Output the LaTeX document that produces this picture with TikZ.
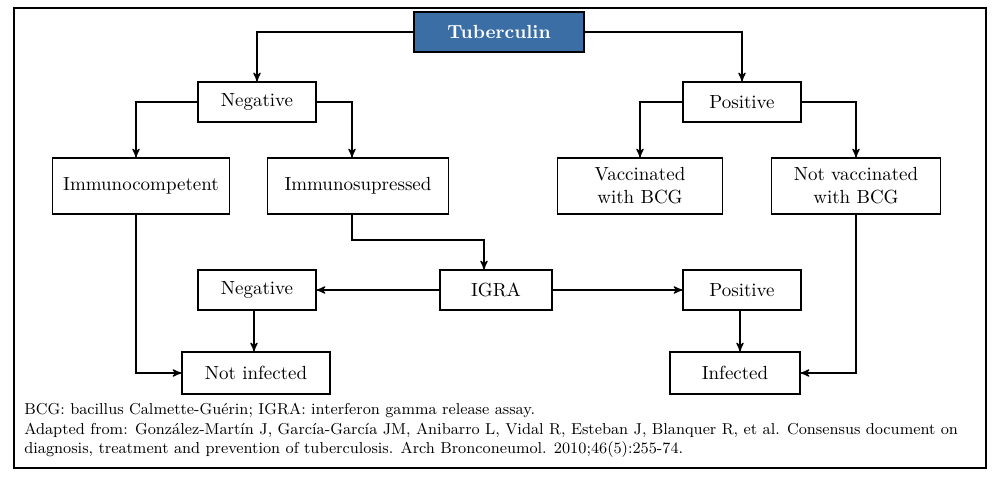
\documentclass[tikz,border=0pt]{standalone}
\usepackage{tikz}
\usetikzlibrary{arrows,positioning}
\definecolor{clrHead}{RGB}{58,110,165}
\tikzstyle{box_style}=[draw, thick, anchor=center, text centered, minimum height=8mm, inner sep=2pt, font=\fontsize{10.8}{13}\selectfont]
\tikzstyle{small_box}=[box_style, minimum width=23.6mm]
\tikzstyle{wide_box}=[box_style, minimum height=11.2mm, text width=33mm]
\tikzstyle{head_box}=[box_style, fill=clrHead, text=white, font=\fontsize{10.8}{13}\selectfont\bfseries, minimum width=34mm]
\tikzstyle{myarrow}=[->, >=stealth', thick]

\begin{document}
\begin{tikzpicture}
		\useasboundingbox (0,0) rectangle (20,-9.58);
		\draw[thick] (0.28,-0.16) rectangle (19.72,-9.36);

		\node[head_box] (T) at (9.98,-0.64) {Tuberculin};

		\node[small_box] (N) at (5.14,-2.04) {Negative};
		\node[small_box] (P) at (14.84,-2.04) {Positive};
		\draw[myarrow] (T) -| (N);
		\draw[myarrow] (T) -| (P);

		\node[wide_box, text width=34mm] (IC) at (2.82,-3.72) {Immunocompetent};
		\node[wide_box, text width=34.8mm] (IS) at (7.16,-3.72) {Immunosupressed};
		\node[wide_box, text width=31.6mm] (V) at (12.8,-3.72) {Vaccinated\\with BCG};
		\node[wide_box, text width=32.4mm] (NV) at (17.12,-3.72) {Not vaccinated\\with BCG};
		\draw[myarrow] (N.west) -| (IC.north -| 2.72,0);
		\draw[myarrow] (N.east) -| (IS.north -| 7.04,0);
		\draw[myarrow] (P.west) -| (V.north -| 12.8,0);
		\draw[myarrow] (P.east) -| (NV.north -| 17.12,0);

		\node[small_box, minimum width=22.4mm] (I) at (9.92,-5.8) {IGRA};
		\node[small_box] (N2) at (5.14,-5.8) {Negative};
		\node[small_box] (P2) at (14.84,-5.8) {Positive};
		\draw[myarrow] (IS.south -| 7.04,0) |- (9.68,-4.8) -- (I.north -| 9.68,0);
		\draw[myarrow] (I) -- (N2);
		\draw[myarrow] (I) -- (P2);

		\node[small_box, minimum width=29.6mm, minimum height=8.4mm] (NI) at (5.12,-7.46) {Not infected};
		\node[small_box, minimum width=26mm, minimum height=8.4mm] (IF) at (14.7,-7.46) {Infected};
		\draw[myarrow] (N2.south -| 5.08,0) -- (NI.north -| 5.08,0);
		\draw[myarrow] (P2.south -| 14.8,0) -- (IF.north -| 14.8,0);
		\draw[myarrow] (IC.south -| 2.72,0) |- (NI.west);
		\draw[myarrow] (NV.south -| 17.12,0) |- (IF.east);

		\node[anchor=north west, align=left, font=\small, inner sep=0pt] (FN) at (0.48,-8.06)
			{BCG: bacillus Calmette-Guérin; IGRA: interferon gamma release assay.\\
			Adapted from: González-Martín J, García-García JM, Anibarro L, Vidal R, Esteban J, Blanquer R, et al. Consensus document on\\
			diagnosis, treatment and prevention of tuberculosis. Arch Bronconeumol. 2010;46(5):255-74.};
	\end{tikzpicture}
\end{document}
